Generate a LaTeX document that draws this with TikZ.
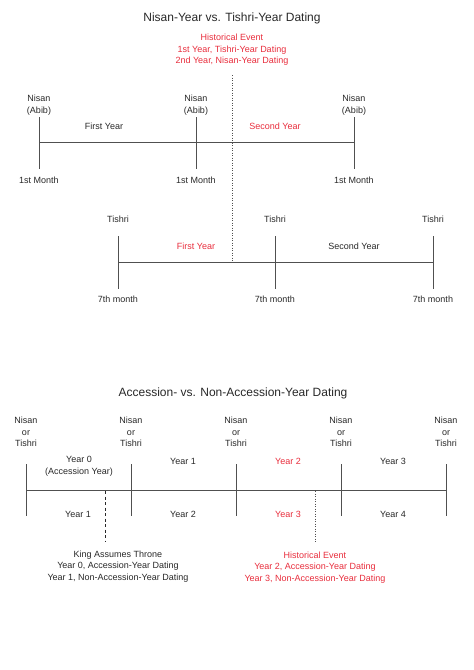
\documentclass[tikz,border=0pt]{standalone}
\usepackage{fontspec}
\setmainfont{Liberation Sans}
\definecolor{evred}{RGB}{232,45,60}
\definecolor{txt}{RGB}{40,40,40}
\definecolor{ln}{RGB}{80,80,80}
\begin{document}
\begin{tikzpicture}[x=1pt,y=-1pt,
  lbl/.style={font=\fontsize{9}{11.5}\selectfont,text=txt,inner sep=0pt,align=center},
  redlbl/.style={lbl,text=evred},
  ttl/.style={font=\fontsize{12}{14}\selectfont,text=txt,inner sep=0pt},
  tl/.style={draw=ln,line width=0.8pt},
  dotl/.style={draw=ln,line width=0.8pt,dash pattern=on 1pt off 1.5pt},
  dashl/.style={draw=txt,line width=1pt,dash pattern=on 3pt off 2.5pt}]
\useasboundingbox (0,0) rectangle (474,670);
% ---------- top ----------
\node[ttl] (t1) at (232,18) {Nisan-Year vs. Tishri-Year Dating};
\node[redlbl] (he1) at (232,50) {Historical Event\\1st Year, Tishri-Year Dating\\2nd Year, Nisan-Year Dating};
\coordinate (d1a) at (232.5,75);
\coordinate (d1b) at (232.5,262);
\draw[dotl] (d1a) -- (d1b);
% Nisan line
\foreach \i/\x in {1/39,2/196,3/354}{
  \node[lbl] (n\i) at (\x,105) {Nisan\\(Abib)};
  \node[lbl] (m\i) at (\x,180) {1st Month};
  \coordinate (nt\i) at (\x,117);
  \coordinate (nb\i) at (\x,169);
  \coordinate (nh\i) at (\x,142);
  \draw[tl] (nt\i) -- (nb\i);
}
\draw[tl] (nh1) -- (nh3);
\node[lbl] (fy1) at (104,126) {First Year};
\node[redlbl] (sy1) at (275,126) {Second Year};
% Tishri line
\foreach \i/\x in {1/118,2/275,3/433}{
  \node[lbl] (ti\i) at (\x,219) {Tishri};
  \node[lbl] (sm\i) at (\x,299) {7th month};
  \coordinate (tt\i) at (\x,236);
  \coordinate (tb\i) at (\x,289);
  \coordinate (th\i) at (\x,262);
  \draw[tl] (tt\i) -- (tb\i);
}
\draw[tl] (th1) -- (th3);
\node[redlbl] (fy2) at (196,246) {First Year};
\node[lbl] (sy2) at (354,246) {Second Year};
% ---------- bottom ----------
\node[ttl] (t2) at (233,393) {Accession- vs. Non-Accession-Year Dating};
\foreach \i/\x in {1/26,2/131,3/236,4/341,5/446}{
  \node[lbl] (nt\i) at (\x,432) {Nisan\\or\\Tishri};
  \coordinate (bt\i) at (\x,464);
  \coordinate (bb\i) at (\x,516);
  \coordinate (bh\i) at (\x,490);
  \draw[tl] (bt\i) -- (bb\i);
}
\draw[tl] (bh1) -- (bh5);
\node[lbl] (y0) at (79,466.5) {Year 0\\(Accession Year)};
\node[lbl] (y1a) at (183,461) {Year 1};
\node[redlbl] (y2a) at (288,461) {Year 2};
\node[lbl] (y3a) at (393,461) {Year 3};
\node[lbl] (y1b) at (78,514) {Year 1};
\node[lbl] (y2b) at (183,514) {Year 2};
\node[redlbl] (y3b) at (288,514) {Year 3};
\node[lbl] (y4b) at (393,514) {Year 4};
\coordinate (k1) at (105,491);
\coordinate (k2) at (105,541);
\draw[dashl] (k1) -- (k2);
\coordinate (h1) at (315,491);
\coordinate (h2) at (315,543);
\draw[dotl] (h1) -- (h2);
\node[lbl] (king) at (118,566.5) {King Assumes Throne\\Year 0, Accession-Year Dating\\Year 1, Non-Accession-Year Dating};
\node[redlbl] (he2) at (315,567.5) {Historical Event\\Year 2, Accession-Year Dating\\Year 3, Non-Accession-Year Dating};
\end{tikzpicture}
\end{document}
